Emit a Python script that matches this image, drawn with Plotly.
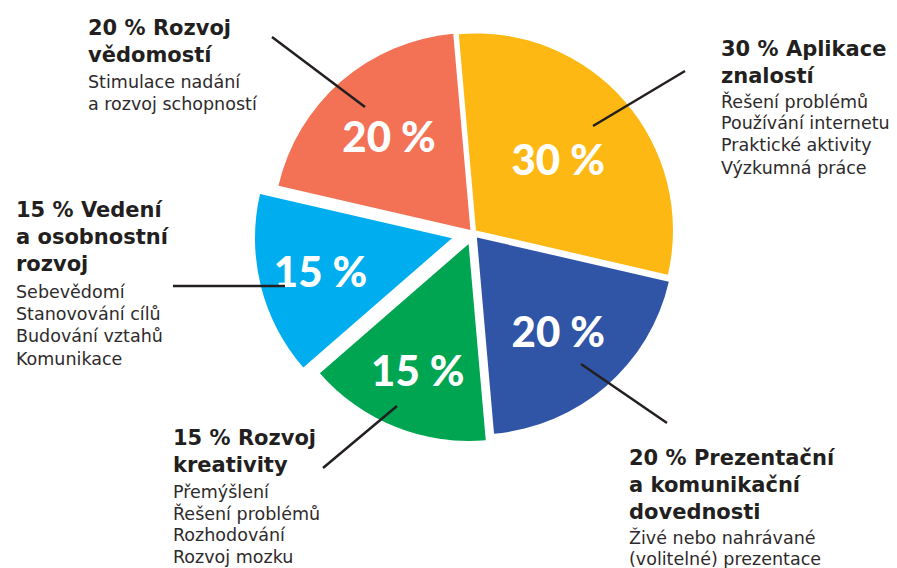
import plotly.graph_objects as go

W, H = 897, 568

# ---- data ----
categories = ["Aplikace znalostí", "Prezentační a komunikační dovednosti",
              "Rozvoj kreativity", "Vedení a osobnostní rozvoj", "Rozvoj vědomostí"]
values = [30, 20, 15, 15, 20]
slice_labels = ["30 %", "20 %", "15 %", "15 %", "20 %"]
colors = ["#FDB813", "#3155A6", "#00A551", "#00AEEF", "#F37255"]
pulls = [0.02, 0.03, 0.06, 0.11, 0.02]

titles = [["30 % Aplikace", "znalostí"],
          ["20 % Prezentační", "a komunikační", "dovednosti"],
          ["15 % Rozvoj", "kreativity"],
          ["15 % Vedení", "a osobnostní", "rozvoj"],
          ["20 % Rozvoj", "vědomostí"]]
details = [["Řešení problémů", "Používání internetu", "Praktické aktivity", "Výzkumná práce"],
           ["Živé nebo nahrávané", "(volitelné) prezentace"],
           ["Přemýšlení", "Řešení problémů", "Rozhodování", "Rozvoj mozku"],
           ["Sebevědomí", "Stanovování cílů", "Budování vztahů", "Komunikace"],
           ["Stimulace nadání", "a rozvoj schopností"]]

# ---- layout helpers (pixel -> paper) ----
def px(x):
    return x / W

def py(y):
    return 1 - y / H

cx, cy, R = 473, 233, 197
ext = R * (1 + max(pulls))

fig = go.Figure(go.Pie(
    labels=categories, values=values, text=slice_labels,
    textinfo="text", textposition="inside", insidetextorientation="horizontal",
    sort=False, direction="clockwise", rotation=-5,
    pull=pulls,
    marker=dict(colors=colors, line=dict(width=0)),
    textfont=dict(family="Lato", size=42, color="white", weight=900),
    domain=dict(x=[px(cx - ext), px(cx + ext)], y=[py(cy + ext), py(cy - ext)]),
    hoverinfo="label+percent", showlegend=False,
))

# label blocks: (left x, title first baseline, detail first baseline, detail gap)
blocks = [(720, 56, 107, 22.3), (628, 465, 543, 22.3), (172, 445, 498, 21.7),
          (15, 217, 298, 22.3), (87, 35, 88, 22.3)]
FONT = "DejaVu Sans"
ASC = 0.928
TITLE_SIZE, TITLE_GAP = 21, 27
DETAIL_SIZE = 17.5
ink = "#231F20"

annotations = []

def add_line(x, baseline, text, size, weight, color):
    annotations.append(dict(
        x=px(x - 1), y=py(baseline - 2 - ASC * size), xref="paper", yref="paper",
        xanchor="left", yanchor="top", align="left", showarrow=False, text=text,
        font=dict(family=FONT, size=size, color=color, weight=weight)))

for (lx, tb, db, dg), tl, dl in zip(blocks, titles, details):
    for i, t in enumerate(tl):
        add_line(lx, tb + i * TITLE_GAP, t, TITLE_SIZE, 700, ink)
    for i, d in enumerate(dl):
        add_line(lx, db + i * dg, d, DETAIL_SIZE, 400, "#2E2A2B")

# leader lines (inner point, outer point) in pixels
leaders = [((593, 126), (685, 71)), ((581, 364), (667, 423)), ((397, 406), (323, 468)),
           ((285, 286), (173, 286)), ((365, 107), (272, 37))]
shapes = [dict(type="line", xref="paper", yref="paper",
               x0=px(a[0]), y0=py(a[1]), x1=px(b[0]), y1=py(b[1]),
               line=dict(color=ink, width=2.5)) for a, b in leaders]

fig.update_layout(
    width=W, height=H, margin=dict(l=0, r=0, t=0, b=0),
    paper_bgcolor="white", plot_bgcolor="white",
    annotations=annotations, shapes=shapes,
)
fig.write_html("out.html", config={"displayModeBar": False},
               post_script="document.body.style.margin='0';")
